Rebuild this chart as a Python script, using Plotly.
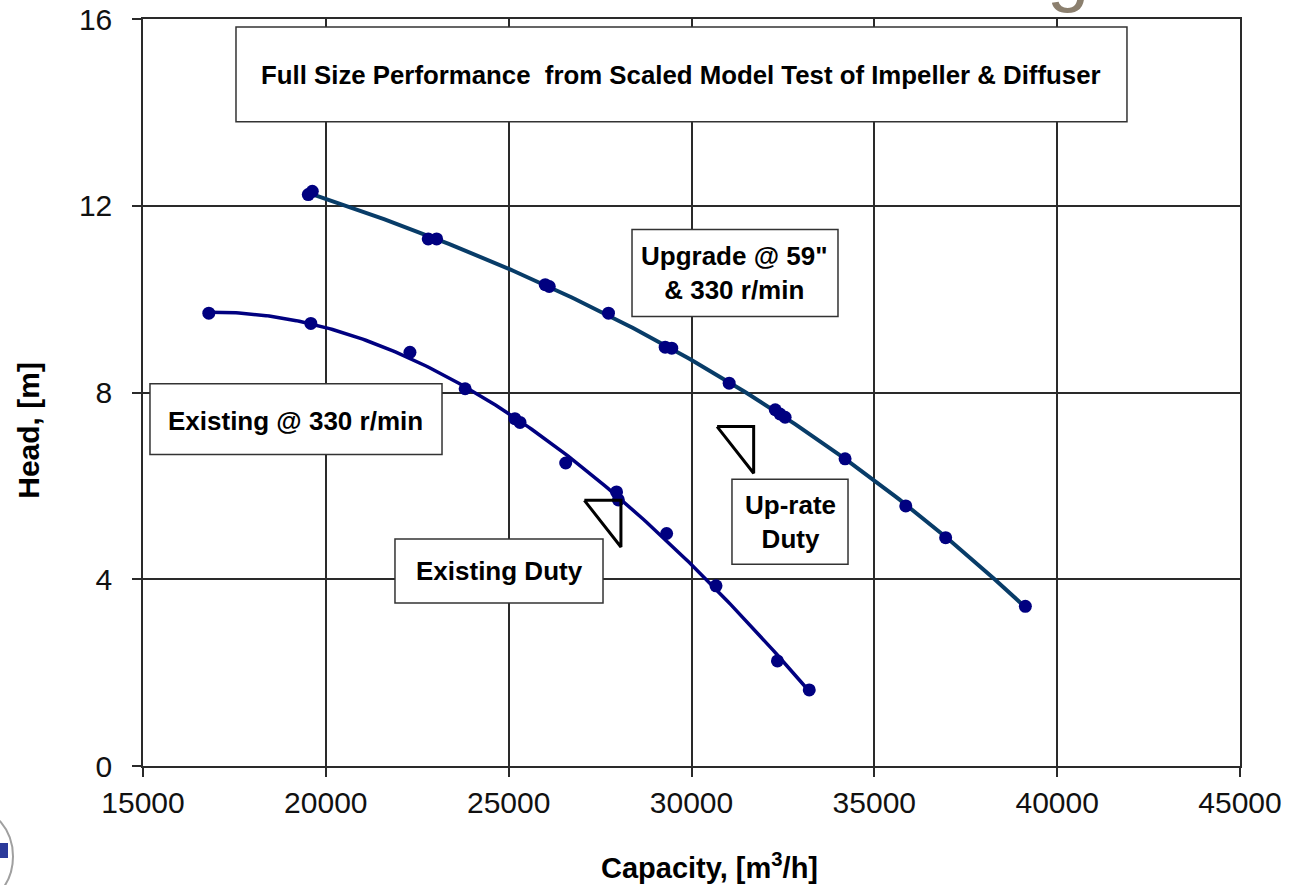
import numpy as np
import plotly.graph_objects as go

# ---- measured pump performance (capacity m3/h, head m) ----
existing_capacity = [16800, 19590, 22300, 23810, 25170, 25310, 26560, 27950, 28000,
                     29320, 30670, 32350, 33220]
existing_head = [9.70, 9.48, 8.86, 8.08, 7.44, 7.36, 6.49, 5.87, 5.70,
                 4.98, 3.86, 2.25, 1.63]

upgrade_capacity = [19520, 19630, 22800, 23030, 26000, 26110, 27730, 29280, 29460,
                    31030, 32290, 32420, 32560, 34200, 35860, 36950, 39130]
upgrade_head = [12.24, 12.31, 11.29, 11.29, 10.31, 10.27, 9.70, 8.97, 8.95,
                8.20, 7.63, 7.54, 7.47, 6.58, 5.57, 4.89, 3.42]

# duty points (capacity, head)
existing_duty = (28070, 5.69)
uprate_duty = (31700, 7.27)

x_ticks = [15000, 20000, 25000, 30000, 35000, 40000, 45000]
y_ticks = [0, 4, 8, 12, 16]

FONT = "Liberation Sans, Arial, sans-serif"
NAVY = "#000080"
TEAL = "#083c68"
GRID = "#2a2a2a"

W, H = 1290, 885
M_L, M_R, M_T, M_B = 143, 50, 19, 119


def px_to_paper(px, py):
    """Convert page pixel position to paper coordinates."""
    return ((px - M_L) / (W - M_L - M_R), (H - M_B - py) / (H - M_T - M_B))


def trendline(xs, ys, deg=3, n=200):
    """Polynomial trendline spanning the measured range."""
    coef = np.polyfit(xs, ys, deg)
    xx = np.linspace(min(xs), max(xs), n)
    return xx, np.polyval(coef, xx)


def duty_marker(pt, dx=1000, dy=1.0):
    """Open right-angle triangle whose corner sits on the duty point."""
    x, y = pt
    return [x - dx, x, x, x - dx], [y, y, y - dy, y]


fig = go.Figure()

ex_x, ex_y = trendline(existing_capacity, existing_head)
up_x, up_y = trendline(upgrade_capacity, upgrade_head)

fig.add_trace(go.Scatter(x=ex_x, y=ex_y, mode="lines",
                         line=dict(color=NAVY, width=3.5), hoverinfo="skip"))
fig.add_trace(go.Scatter(x=up_x, y=up_y, mode="lines",
                         line=dict(color=TEAL, width=4), hoverinfo="skip"))
fig.add_trace(go.Scatter(x=existing_capacity, y=existing_head, mode="markers",
                         marker=dict(color=NAVY, size=13), name="Existing @ 330 r/min"))
fig.add_trace(go.Scatter(x=upgrade_capacity, y=upgrade_head, mode="markers",
                         marker=dict(color=NAVY, size=13), name="Upgrade @ 59\" & 330 r/min"))

for pt in (existing_duty, uprate_duty):
    tx, ty = duty_marker(pt)
    fig.add_trace(go.Scatter(x=tx, y=ty, mode="lines",
                             line=dict(color="black", width=3), hoverinfo="skip"))

# ---- boxed labels: (x0, x1, y0, y1) in data units ----
boxes = [
    (17543, 41909, 13.80, 15.83),
    (28373, 34006, 9.63, 11.49),
    (15191, 23177, 6.67, 8.19),
    (21891, 27580, 3.49, 4.86),
    (31107, 34280, 4.32, 6.14),
]
for x0, x1, y0, y1 in boxes:
    fig.add_shape(type="rect", xref="x", yref="y", x0=x0, x1=x1, y0=y0, y1=y1,
                  fillcolor="white", line=dict(color="#333333", width=1.5),
                  layer="between")

labels = [
    ("Full Size Performance&nbsp;&nbsp;from Scaled Model Test of Impeller &amp; Diffuser",
     29726, 14.80, 25.8),
    ("Upgrade @ 59\"<br>&amp; 330 r/min", 31189, 10.56, 26),
    ("Existing @ 330 r/min", 19184, 7.40, 26),
    ("Existing Duty", 24736, 4.17, 26),
    ("Up-rate<br>Duty", 32694, 5.23, 26),
]
for text, x, y, size in labels:
    fig.add_annotation(text=f"<b>{text}</b>", x=x, y=y, xref="x", yref="y",
                       showarrow=False, xanchor="center", yanchor="middle",
                       font=dict(family=FONT, size=size, color="black"))

# axis titles
fig.add_annotation(text="<b>Capacity, [m<sup>3</sup>/h]</b>", xref="paper", yref="paper",
                   x=0.516, y=-0.134, showarrow=False, xanchor="center", yanchor="middle",
                   font=dict(family=FONT, size=29, color="black"))
fig.add_annotation(text="<b>Head, [m]</b>", xref="paper", yref="paper",
                   x=-0.104, y=0.45, showarrow=False, textangle=-90,
                   xanchor="center", yanchor="middle",
                   font=dict(family=FONT, size=30, color="black"))

# slide furniture around the chart: heading glyph above, logo edge below left
gx, gy = px_to_paper(1068, 15)
fig.add_annotation(text="g", xref="paper", yref="paper", x=gx, y=gy,
                   showarrow=False, xanchor="center", yanchor="bottom",
                   font=dict(family=FONT, size=76, color="#8b7f6e"))
c0x, c0y = px_to_paper(-70, 905)
c1x, c1y = px_to_paper(13, 808)
fig.add_shape(type="circle", xref="paper", yref="paper", x0=c0x, x1=c1x, y0=c0y, y1=c1y,
              fillcolor="white", line=dict(color="#a0a0a0", width=2), layer="above")
b0x, b0y = px_to_paper(0, 858)
b1x, b1y = px_to_paper(8, 843)
fig.add_shape(type="rect", xref="paper", yref="paper", x0=b0x, x1=b1x, y0=b0y, y1=b1y,
              fillcolor="#2b3a9a", line=dict(width=0), layer="above")

axis_common = dict(showgrid=True, gridcolor=GRID, gridwidth=1.5,
                   showline=True, linecolor=GRID, linewidth=1.5, mirror=True,
                   ticks="outside", ticklen=9, tickcolor=GRID, tickwidth=1.5,
                   zeroline=False, automargin=False,
                   tickfont=dict(family=FONT, size=30, color="#111111"))

fig.update_xaxes(range=[15000, 45000], tickvals=x_ticks,
                 ticktext=[str(v) for v in x_ticks], **axis_common)
fig.update_yaxes(range=[0, 16], tickvals=y_ticks, ticklabelstandoff=14,
                 ticktext=[str(v) for v in y_ticks], **axis_common)

fig.update_layout(width=W, height=H, showlegend=False,
                  margin=dict(l=M_L, r=M_R, t=M_T, b=M_B),
                  paper_bgcolor="white", plot_bgcolor="white",
                  font=dict(family=FONT))

fig.write_html("out.html")
